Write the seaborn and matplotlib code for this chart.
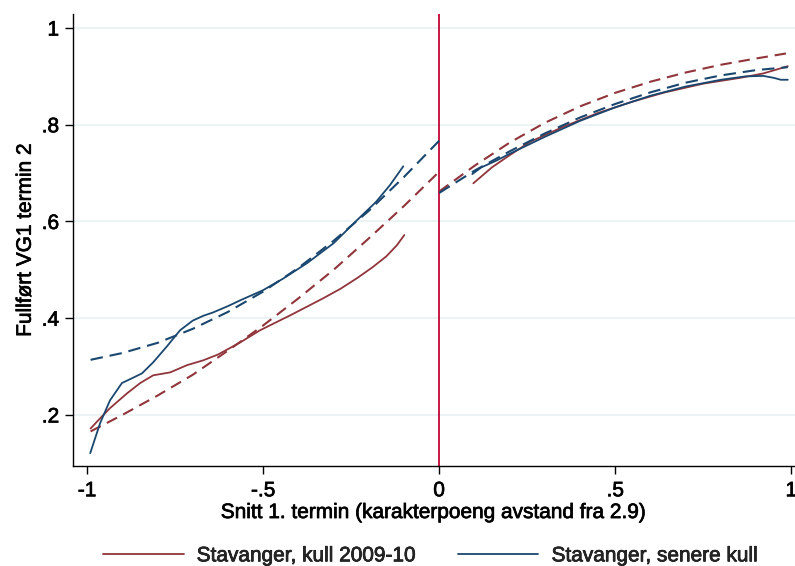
import matplotlib
matplotlib.use("Agg")
import matplotlib.pyplot as plt
import matplotlib.patheffects as pe
from matplotlib.lines import Line2D
import seaborn as sns
import pandas as pd

# --- Stavanger, kull 2009-10: local smoother (solid) ---
red_lo_left_x = [-0.99, -0.963, -0.935, -0.886, -0.849, -0.812, -0.764, -0.716, -0.670,
                 -0.628, -0.565, -0.509, -0.423, -0.330, -0.28, -0.233, -0.19, -0.15,
                 -0.12, -0.099]
red_lo_left_y = [0.172, 0.193, 0.214, 0.245, 0.266, 0.282, 0.288, 0.303, 0.313,
                 0.325, 0.350, 0.375, 0.406, 0.441, 0.461, 0.483, 0.505, 0.528,
                 0.551, 0.572]
red_lo_right_x = [0.097, 0.15, 0.20, 0.259, 0.35, 0.45, 0.55, 0.636, 0.75, 0.855, 0.92, 0.99]
red_lo_right_y = [0.679, 0.712, 0.737, 0.765, 0.795, 0.824, 0.848, 0.866, 0.885, 0.897, 0.906, 0.921]

# --- Stavanger, kull 2009-10: quadratic fit (dashed) ---
red_fit_left_x = [-0.99, -0.9, -0.8, -0.7, -0.6, -0.5, -0.4, -0.3, -0.2, -0.1, 0.0]
red_fit_left_y = [0.166, 0.200, 0.240, 0.283, 0.333, 0.385, 0.441, 0.500, 0.565, 0.632, 0.703]
red_fit_right_x = [0.0, 0.1, 0.2, 0.3, 0.4, 0.5, 0.6, 0.7, 0.8, 0.9, 0.99]
red_fit_right_y = [0.662, 0.715, 0.763, 0.804, 0.838, 0.866, 0.889, 0.908, 0.924, 0.937, 0.948]

# --- Stavanger, senere kull: local smoother (solid) ---
blue_lo_left_x = [-0.991, -0.963, -0.935, -0.901, -0.872, -0.844, -0.812, -0.773, -0.736,
                  -0.70, -0.67, -0.642, -0.60, -0.565, -0.50, -0.443, -0.375, -0.30,
                  -0.233, -0.18, -0.14, -0.102]
blue_lo_left_y = [0.121, 0.183, 0.230, 0.266, 0.276, 0.286, 0.309, 0.342, 0.375,
                  0.395, 0.405, 0.412, 0.425, 0.437, 0.458, 0.482, 0.514, 0.555,
                  0.603, 0.640, 0.675, 0.714]
blue_lo_right_x = [0.094, 0.12, 0.16, 0.20, 0.30, 0.40, 0.50, 0.60, 0.70, 0.80, 0.87,
                   0.92, 0.95, 0.97, 0.99]
blue_lo_right_y = [0.698, 0.712, 0.725, 0.740, 0.775, 0.808, 0.836, 0.860, 0.879, 0.893,
                   0.900, 0.901, 0.897, 0.893, 0.893]

# --- Stavanger, senere kull: quadratic fit (dashed) ---
blue_fit_left_x = [-0.99, -0.9, -0.8, -0.7, -0.6, -0.5, -0.4, -0.3, -0.2, -0.1, 0.0]
blue_fit_left_y = [0.314, 0.328, 0.349, 0.378, 0.413, 0.455, 0.504, 0.560, 0.622, 0.692, 0.767]
blue_fit_right_x = [0.0, 0.1, 0.2, 0.3, 0.4, 0.5, 0.6, 0.7, 0.8, 0.9, 0.99]
blue_fit_right_y = [0.659, 0.705, 0.745, 0.782, 0.815, 0.843, 0.867, 0.887, 0.902, 0.913, 0.919]

x_ticks = [-1, -0.5, 0, 0.5, 1]
x_tick_labels = ["-1", "-.5", "0", ".5", "1"]
y_ticks = [0.2, 0.4, 0.6, 0.8, 1.0]
y_tick_labels = [".2", ".4", ".6", ".8", "1"]
legend_labels = ["Stavanger, kull 2009-10", "Stavanger, senere kull"]

RED = "#90353b"
BLUE = "#1a476f"
CUTOFF = "#c10534"
GRID = "#eaf2f3"
FS = 15
HEAVY = [pe.withStroke(linewidth=0.5, foreground="black")]

sns.set_theme(style="white")
plt.rcParams["font.family"] = ["Liberation Sans", "DejaVu Sans"]
plt.rcParams["font.size"] = FS

fig = plt.figure(figsize=(7.95, 5.66), dpi=100)
ax = fig.add_axes([0.0918, 0.1767, 0.908, 0.7986])

for yv in y_ticks:
    ax.axhline(yv, color=GRID, lw=1.3, zorder=0)

ax.axvline(0, color=CUTOFF, lw=1.3, zorder=1)

series = [
    (red_lo_left_x, red_lo_left_y, RED, "solid"),
    (red_lo_right_x, red_lo_right_y, RED, "solid"),
    (red_fit_left_x, red_fit_left_y, RED, "dashed_r"),
    (red_fit_right_x, red_fit_right_y, RED, "dashed_r"),
    (blue_lo_left_x, blue_lo_left_y, BLUE, "solid"),
    (blue_lo_right_x, blue_lo_right_y, BLUE, "solid"),
    (blue_fit_left_x, blue_fit_left_y, BLUE, "dashed_b"),
    (blue_fit_right_x, blue_fit_right_y, BLUE, "dashed_b"),
]
for xs, ys, col, style in series:
    df = pd.DataFrame({"x": xs, "y": ys})
    if style == "solid":
        sns.lineplot(data=df, x="x", y="y", color=col, lw=1.3, sort=False,
                     estimator=None, ax=ax, zorder=3)
    else:
        line = sns.lineplot(data=df, x="x", y="y", color=col, lw=1.5, sort=False,
                            estimator=None, ax=ax, zorder=3).lines[-1]
        line.set_dashes((6.0, 3.3) if style == "dashed_b" else (5.5, 3.3))

ax.set_xlim(-1.04, 1.01)
ax.set_ylim(0.0945, 1.029)
ax.set_xticks(x_ticks)
ax.set_xticklabels(x_tick_labels)
ax.set_yticks(y_ticks)
ax.set_yticklabels(y_tick_labels)
ax.tick_params(axis="both", direction="out", length=6, width=1, color="black",
               labelsize=FS, labelcolor="black", bottom=True, left=True)
ax.tick_params(axis="x", pad=5)
ax.tick_params(axis="y", pad=4)

for side in ["top", "right"]:
    ax.spines[side].set_visible(False)
for side in ["left", "bottom"]:
    ax.spines[side].set_color("black")
    ax.spines[side].set_linewidth(1.0)

ax.set_xlabel("Snitt 1. termin (karakterpoeng avstand fra 2.9)", fontsize=FS,
              color="black", labelpad=2)
ax.set_ylabel("Fullført VG1 termin 2", fontsize=FS, color="black", labelpad=5)

handles = [Line2D([0], [0], color=RED, lw=1.3), Line2D([0], [0], color=BLUE, lw=1.3)]
leg = fig.legend(handles, legend_labels, loc="center", bbox_to_anchor=(0.542, 0.018),
                 ncol=2, frameon=False, fontsize=FS, handlelength=3.85,
                 handletextpad=0.63, columnspacing=2.0, borderpad=0.0)

texts = (ax.get_xticklabels() + ax.get_yticklabels() + leg.get_texts()
         + [ax.xaxis.label, ax.yaxis.label])
for t in texts:
    t.set_path_effects(HEAVY)

fig.savefig("out.png", dpi=100)
